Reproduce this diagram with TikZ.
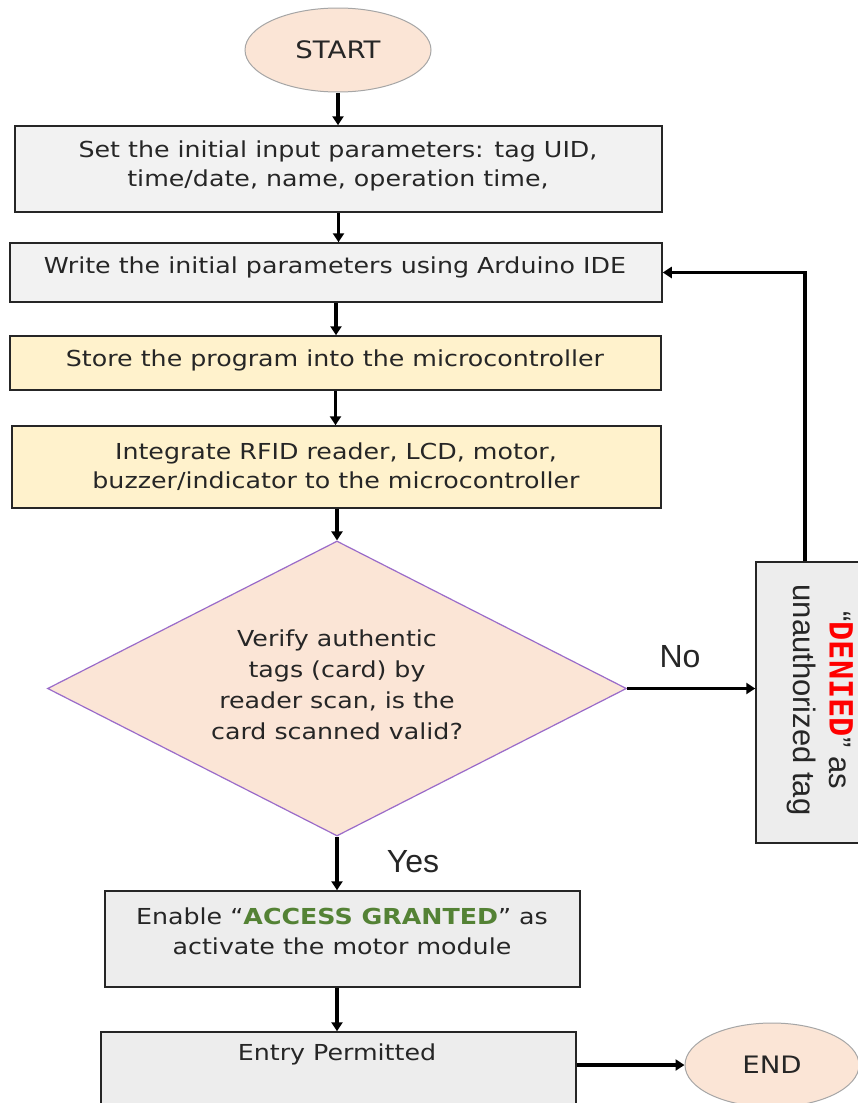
\documentclass[tikz,border=0pt]{standalone}
\usepackage{fontspec}
\setmainfont[FakeStretch=1.15]{DejaVu Sans}
\newfontfamily\arialf{Liberation Sans}
\newfontfamily\monof{DejaVu Sans Mono}
\usetikzlibrary{shapes.geometric,arrows.meta}
\definecolor{peach}{HTML}{FBE5D6}
\definecolor{lgray}{HTML}{F2F2F2}
\definecolor{mgray}{HTML}{EDEDED}
\definecolor{lyellow}{HTML}{FFF2CC}
\definecolor{purp}{HTML}{9A6BC9}
\definecolor{okgreen}{HTML}{548235}
\definecolor{ink}{HTML}{262626}
\begin{document}
\begin{tikzpicture}[x=1pt,y=-1pt,
  box/.style={draw=black!85, line width=1.5pt, rectangle, inner sep=0pt},
  txt/.style={font=\fontsize{22}{29}\selectfont, text=ink, align=center, inner sep=0pt},
  term/.style={ellipse, draw=black!35, line width=1pt, fill=peach, inner sep=0pt,
    font=\fontsize{24}{29}\selectfont, text=ink},
  arr/.style={line width=3.2pt, -{Triangle[length=9pt,width=11pt]}},
  lbl/.style={font=\arialf\fontsize{32}{36}\selectfont, text=ink, inner sep=0pt}]
\useasboundingbox (0,0) rectangle (858,1103);
\clip (0,0) rectangle (858,1103);
\fill[white] (0,0) rectangle (858,1103);

% terminals
\node[term, minimum width=186, minimum height=84] (start) at (338,50) {START};
\node[term, minimum width=174, minimum height=84] (end) at (772,1065) {END};

% process boxes
\node[box, fill=lgray, minimum width=647, minimum height=86] (b1) at (338.5,169) {};
\node[txt] (t1) at (338,166) {Set the initial input parameters: tag UID,\\time/date, name, operation time,};

\node[box, fill=lgray, minimum width=652, minimum height=59] (b2) at (336,272.5) {};
\node[txt] (t2) at (335,267) {Write the initial parameters using Arduino IDE};

\node[box, fill=lyellow, minimum width=651, minimum height=54] (b3) at (335.5,363) {};
\node[txt] (t3) at (335,360) {Store the program into the microcontroller};

\node[box, fill=lyellow, minimum width=649, minimum height=82] (b4) at (336.5,467) {};
\node[txt] (t4) at (336,467) {Integrate RFID reader, LCD, motor,\\buzzer/indicator to the microcontroller};

% decision
\node[diamond, draw=purp, line width=1.2pt, fill=peach, inner sep=0pt,
  minimum width=579, minimum height=295] (dia) at (337,688.5) {};
\node[txt, font=\fontsize{22}{31}\selectfont] (tdia) at (337,685)
  {Verify authentic\\tags (card) by\\reader scan, is the\\card scanned valid?};

% denied box
\node[box, fill=mgray, minimum width=134, minimum height=281] (den) at (823,702.5) {};
\node[txt, font=\arialf\fontsize{31}{36}\selectfont, rotate=-90] (tden) at (820,700)
  {“{\monof\bfseries\fontsize{32}{36}\selectfont\color{red}DENIED}” as\\unauthorized tag};

% granted box
\node[box, fill=mgray, minimum width=475, minimum height=96] (acc) at (342.5,939) {};
\node[txt, font=\fontsize{22}{30}\selectfont] (tacc) at (342,931)
  {Enable “{\bfseries\color{okgreen}ACCESS GRANTED}” as\\activate the motor module};

% entry box
\node[box, fill=mgray, minimum width=475, minimum height=108] (ent) at (338.5,1086) {};
\node[txt] (tent) at (337,1054) {Entry Permitted};

% labels
\node[lbl] (no) at (680,657) {No};
\node[lbl] (yes) at (413,862) {Yes};

% connectors
\coordinate (fbx) at (805,0);
\draw[arr] (start.south) -- (start.south |- b1.north);
\draw[arr] (b1.south) -- (b1.south |- b2.north);
\draw[arr] (b2.south) -- (b2.south |- b3.north);
\draw[arr] (b3.south) -- (b3.south |- b4.north);
\draw[arr] (dia.north |- b4.south) -- (dia.north);
\draw[arr] (dia.south) -- (dia.south |- acc.north);
\draw[arr] (dia.south |- acc.south) -- (dia.south |- ent.north);
\draw[arr] (dia.east) -- (dia.east -| den.west);
\draw[arr] (den.north -| fbx) |- (b2.east);
\draw[arr] (end.west -| ent.east) -- (end.west);
\end{tikzpicture}
\end{document}
